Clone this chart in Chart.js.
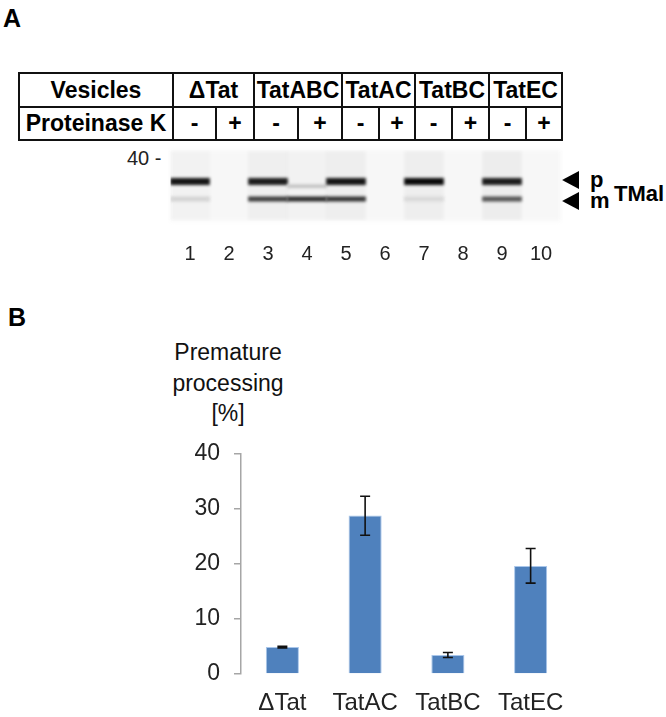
<!DOCTYPE html>
<html>
<head>
<meta charset="utf-8">
<script src="https://cdn.jsdelivr.net/npm/chart.js@4"></script>
<style>
  html, body { margin: 0; padding: 0; background: #fff; }
  body { position: relative; width: 666px; height: 717px; overflow: hidden; font-family: "Liberation Sans", Arial, sans-serif; color: #111; }
  canvas { position: absolute; }
  .txt { position: absolute; white-space: nowrap; line-height: 1; }
  .panel { font-weight: bold; font-size: 25px; color: #000; }
  table { position: absolute; left: 18px; top: 72px; border-collapse: collapse; table-layout: fixed; width: 543px; }
  td { border: 2px solid #111; padding: 0; text-align: center; font-weight: bold; font-size: 23px; color: #000; white-space: nowrap; overflow: visible; }
  tr.r1 td { height: 32px; }
  tr.r2 td { height: 31px; }
  .tri { position: absolute; width: 0; height: 0; border-top: 9px solid transparent; border-bottom: 9px solid transparent; border-right: 17px solid #000; }
</style>
</head>
<body>
<div class="txt panel" style="left:3px;top:6px">A</div>
<div class="txt panel" style="left:8px;top:305px">B</div>

<table>
  <colgroup>
    <col style="width:154px"><col style="width:43px"><col style="width:38px">
    <col style="width:44px"><col style="width:44px"><col style="width:37px"><col style="width:36px">
    <col style="width:37px"><col style="width:37px"><col style="width:37px"><col style="width:36px">
  </colgroup>
  <tr class="r1" id="row1"><td>Vesicles</td></tr>
  <tr class="r2" id="row2"><td>Proteinase K</td></tr>
</table>

<div class="txt" style="left:127px;top:148px;font-size:20px;color:#222">40 -</div>
<div class="tri" style="left:562px;top:171px"></div>
<div class="tri" style="left:562px;top:192px"></div>
<div class="txt" style="left:590px;top:169px;font-size:22px;font-weight:bold;color:#000">p</div>
<div class="txt" style="left:590px;top:190px;font-size:22px;font-weight:bold;color:#000">m</div>
<div class="txt" style="left:614px;top:183px;font-size:22px;font-weight:bold;color:#000">TMal</div>

<div class="txt" style="left:128px;top:337px;width:200px;text-align:center;font-size:23px;line-height:30.5px;color:#111">Premature<br>processing<br>[%]</div>

<canvas id="gelChart" width="666" height="130" style="left:0;top:140px"></canvas>
<canvas id="barChart" width="440" height="291" style="left:150px;top:426px"></canvas>

<script>
// Panel A header
const vesicles = ["ΔTat", "TatABC", "TatAC", "TatBC", "TatEC"];
const treatments = ["-", "+"];

// Panel A gel, band darkness per lane (0 = no band, 1 = black)
const lanes = ["1", "2", "3", "4", "5", "6", "7", "8", "9", "10"];
const precursorBand = [0.95, 0, 0.92, 0.22, 0.95, 0, 1, 0, 0.92, 0];
const matureBand = [0.14, 0, 0.78, 0.85, 0.82, 0, 0.12, 0, 0.68, 0];
const laneSmear = [0.02, 0, 0.03, 0.02, 0.035, 0, 0.035, 0, 0.04, 0];

// Panel B
const categories = ["ΔTat", "TatAC", "TatBC", "TatEC"];
const processing = [4.9, 28.8, 3.45, 19.6];
const errorLow = [4.75, 25.2, 3.0, 16.5];
const errorHigh = [5.05, 32.3, 3.9, 22.8];
const yTicks = [0, 10, 20, 30, 40];

//Filling in the table cells
const row1 = document.getElementById("row1");
const row2 = document.getElementById("row2");
vesicles.forEach((name) => {
  const cell = document.createElement("td");
  cell.colSpan = 2;
  cell.textContent = name;
  row1.appendChild(cell);
  treatments.forEach((sign) => {
    const signCell = document.createElement("td");
    signCell.textContent = sign;
    row2.appendChild(signCell);
  });
});

const grey = (v) => {
  const c = Math.round(245 - v * 235);
  return "rgb(" + c + "," + c + "," + c + ")";
};

// Soft edges on the gel bands and a pale gel background
const gelLook = {
  id: "gelLook",
  beforeDraw(chart) {
    const { ctx, chartArea: a } = chart;
    ctx.save();
    ctx.fillStyle = "#f7f7f7";
    ctx.filter = "blur(2px)";
    ctx.fillRect(a.left, a.top, a.right - a.left, a.bottom - a.top);
    ctx.restore();
  },
  beforeDatasetsDraw(chart) {
    chart.ctx.save();
    chart.ctx.filter = "blur(1.7px)";
  },
  afterDatasetsDraw(chart) {
    chart.ctx.restore();
  },
};

new Chart(document.getElementById("gelChart"), {
  type: "bar",
  data: {
    labels: lanes,
    datasets: [
      {
        data: laneSmear.map((v) => (v > 0 ? [2, 98] : null)),
        backgroundColor: laneSmear.map((v) => "rgba(0,0,0," + v + ")"),
        grouped: false,
        order: 3,
      },
      {
        data: precursorBand.map((v) => (v > 0 ? (v < 0.5 ? [47, 51] : [51, 60]) : null)),
        backgroundColor: precursorBand.map(grey),
        grouped: false,
        order: 1,
      },
      {
        data: matureBand.map((v) => (v > 0 ? [28, 34] : null)),
        backgroundColor: matureBand.map(grey),
        grouped: false,
        order: 2,
      },
    ],
  },
  options: {
    responsive: false,
    animation: false,
    barPercentage: 1,
    categoryPercentage: 1,
    layout: { padding: { left: 170.5, right: 105.5, top: 10, bottom: 0 } },
    plugins: { legend: { display: false }, tooltip: { enabled: false } },
    scales: {
      x: {
        grid: { display: false },
        border: { display: false },
        afterFit(axis) {
          axis.height = 49;
        },
        ticks: {
          color: "#222",
          font: { family: "Liberation Sans", size: 20 },
          padding: 13,
          maxRotation: 0,
          autoSkip: false,
        },
      },
      y: { display: false, min: 0, max: 100 },
    },
  },
  plugins: [gelLook],
});

// Chart.js has no error bars of its own, so they are drawn here from the data arrays
const errorBars = {
  id: "errorBars",
  afterDatasetsDraw(chart) {
    const { ctx, scales } = chart;
    ctx.save();
    ctx.strokeStyle = "#111";
    ctx.lineWidth = 1.6;
    categories.forEach((name, i) => {
      const x = scales.x.getPixelForValue(i);
      const lo = scales.y.getPixelForValue(errorLow[i]);
      const hi = scales.y.getPixelForValue(errorHigh[i]);
      ctx.beginPath();
      ctx.moveTo(x, lo);
      ctx.lineTo(x, hi);
      ctx.moveTo(x - 5, lo);
      ctx.lineTo(x + 5, lo);
      ctx.moveTo(x - 5, hi);
      ctx.lineTo(x + 5, hi);
      ctx.stroke();
    });
    ctx.restore();
  },
};

new Chart(document.getElementById("barChart"), {
  type: "bar",
  data: {
    labels: categories,
    datasets: [
      {
        data: processing,
        backgroundColor: "#4f81bd",
        borderColor: "#a9c6ea",
        borderWidth: 1,
        barPercentage: 0.4,
        categoryPercentage: 1,
      },
    ],
  },
  options: {
    responsive: false,
    animation: false,
    layout: { padding: { top: 3, right: 18 } },
    plugins: { legend: { display: false }, tooltip: { enabled: false } },
    scales: {
      x: {
        grid: { display: false },
        border: { display: false },
        afterFit(axis) {
          axis.height = 43;
        },
        ticks: {
          color: "#222",
          font: { family: "Liberation Sans", size: 24 },
          padding: 7,
          maxRotation: 0,
          autoSkip: false,
        },
      },
      y: {
        min: 0,
        max: 40,
        afterFit(axis) {
          axis.width = 91;
        },
        afterBuildTicks(axis) {
          axis.ticks = yTicks.map((value) => ({ value }));
        },
        grid: { drawOnChartArea: false, color: "#a6a6a6", lineWidth: 1.5, tickLength: 7 },
        border: { color: "#a6a6a6", width: 1.5 },
        ticks: {
          color: "#222",
          font: { family: "Liberation Sans", size: 23 },
          padding: 14,
        },
      },
    },
  },
  plugins: [errorBars],
});
</script>
</body>
</html>
